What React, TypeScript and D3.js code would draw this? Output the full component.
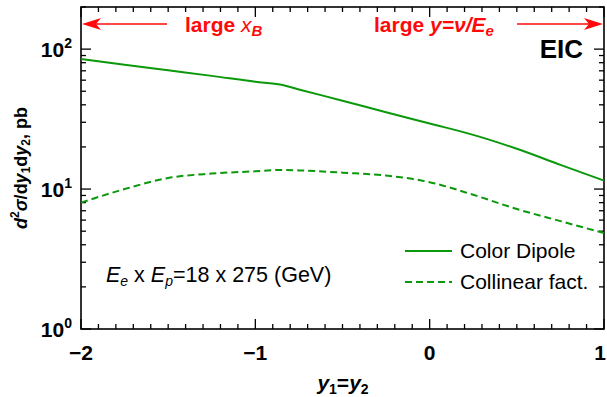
import { useEffect, useRef } from "react";
import * as d3 from "d3";

const ySame = [-2, -1.75, -1.5, -1.25, -1, -0.85, -0.75, -0.5, -0.25, 0, 0.25, 0.5, 0.75, 1];
const colorDipole = [84.9, 77.4, 70.6, 64.4, 58.5, 55.6, 51.5, 42.8, 35.4, 29.4, 24.4, 19.4, 14.9, 11.5];
const collinear = [8.0, 10.0, 12.0, 12.9, 13.4, 13.7, 13.6, 13.1, 12.5, 11.2, 9.1, 7.2, 5.9, 4.85];
const xTicks = [-2, -1, 0, 1];
const yDecades = [0, 1, 2];

const GREEN = "#0a990a";
const RED = "#ff0a0a";
const FONT = "'Liberation Sans', Arial, Helvetica, sans-serif";

export default function App() {
  const ref = useRef<SVGSVGElement>(null);

  useEffect(() => {
    if (!ref.current) return;
    const width = 607;
    const height = 397;
    const margin = { top: 7, right: 3, bottom: 68, left: 81 };

    const svg = d3.select(ref.current);
    svg.selectAll("*").remove();
    svg.attr("width", width).attr("height", height).style("font-family", FONT);

    const x = d3.scaleLinear().domain([-2, 1]).range([margin.left, width - margin.right]);
    const y = d3.scaleLog().domain([1, 200]).range([height - margin.bottom, margin.top]);
    const [x0, x1] = x.range();
    const [yb, yt] = y.range();

    // ticks (inward, mirrored)
    const minorX = d3.range(-20, 11).map((d) => d / 10).filter((d) => !xTicks.includes(d));
    const minorY: number[] = [];
    yDecades.forEach((e) => {
      for (let m = 2; m <= 9; m++) {
        const v = m * Math.pow(10, e);
        if (v <= 200) minorY.push(v);
      }
    });
    const tk = svg.append("g").attr("stroke", "#000").attr("stroke-width", 1.3);
    const xt = [...xTicks.map((d) => ({ v: d, l: 10 })), ...minorX.map((d) => ({ v: d, l: 5 }))];
    xt.forEach(({ v, l }) => {
      tk.append("line").attr("x1", x(v)).attr("x2", x(v)).attr("y1", yb).attr("y2", yb - l);
      tk.append("line").attr("x1", x(v)).attr("x2", x(v)).attr("y1", yt).attr("y2", yt + l);
    });
    const yt2 = [...yDecades.map((e) => ({ v: Math.pow(10, e), l: 10 })), ...minorY.map((d) => ({ v: d, l: 5 }))];
    yt2.forEach(({ v, l }) => {
      tk.append("line").attr("x1", x0).attr("x2", x0 + l).attr("y1", y(v)).attr("y2", y(v));
      tk.append("line").attr("x1", x1).attr("x2", x1 - l).attr("y1", y(v)).attr("y2", y(v));
    });

    // frame
    svg
      .append("rect")
      .attr("x", x0)
      .attr("y", yt)
      .attr("width", x1 - x0)
      .attr("height", yb - yt)
      .attr("fill", "none")
      .attr("stroke", "#000")
      .attr("stroke-width", 1.6);

    // y tick labels
    yDecades.forEach((e) => {
      const t = svg
        .append("text")
        .attr("x", x0 - 9)
        .attr("y", y(Math.pow(10, e)) + 8)
        .attr("text-anchor", "end")
        .attr("font-weight", "bold")
        .attr("font-size", 21);
      t.append("tspan").text("10");
      t.append("tspan").attr("font-size", 14).attr("dy", -9).text(`${e}`);
    });

    // x tick labels
    svg
      .append("g")
      .selectAll("text")
      .data(xTicks)
      .join("text")
      .attr("x", (d) => Math.min(x(d), width - 7))
      .attr("y", yb + 31)
      .attr("text-anchor", "middle")
      .attr("font-weight", "bold")
      .attr("font-size", 21)
      .text((d) => (d < 0 ? `\u2212${-d}` : `${d}`));

    // x title
    const xtitle = svg
      .append("text")
      .attr("x", 343)
      .attr("y", 390)
      .attr("text-anchor", "middle")
      .attr("font-weight", "bold")
      .attr("font-size", 21);
    xtitle.append("tspan").attr("font-style", "italic").text("y");
    xtitle.append("tspan").attr("font-size", 14).attr("dy", 4).text("1");
    xtitle.append("tspan").attr("dy", -4).text("=");
    xtitle.append("tspan").attr("font-style", "italic").text("y");
    xtitle.append("tspan").attr("font-size", 14).attr("dy", 4).text("2");

    // y title
    const ytitle = svg
      .append("text")
      .attr("transform", `translate(27,${(yb + yt) / 2}) rotate(-90)`)
      .attr("text-anchor", "middle")
      .attr("font-weight", "bold")
      .attr("font-size", 18);
    ytitle.append("tspan").attr("font-style", "italic").text("d");
    ytitle.append("tspan").attr("font-size", 12).attr("dy", -8).text("2");
    ytitle.append("tspan").attr("font-style", "italic").attr("dy", 8).text("\u03c3");
    ytitle.append("tspan").text("/d");
    ytitle.append("tspan").attr("font-style", "italic").text("y");
    ytitle.append("tspan").attr("font-size", 12).attr("dy", 3).text("1");
    ytitle.append("tspan").attr("dy", -3).text("d");
    ytitle.append("tspan").attr("font-style", "italic").text("y");
    ytitle.append("tspan").attr("font-size", 12).attr("dy", 3).text("2");
    ytitle.append("tspan").attr("dy", -3).text(", pb");

    // curves
    const line = (vals: number[]) =>
      d3
        .line<number>()
        .x((_, i) => x(ySame[i]))
        .y((d) => y(d))
        .curve(d3.curveMonotoneX)(vals);
    svg
      .append("path")
      .attr("d", line(colorDipole))
      .attr("fill", "none")
      .attr("stroke", GREEN)
      .attr("stroke-width", 2);
    svg
      .append("path")
      .attr("d", line(collinear))
      .attr("fill", "none")
      .attr("stroke", GREEN)
      .attr("stroke-width", 2)
      .attr("stroke-dasharray", "7,4");

    // legend
    const legend = [
      { label: "Color Dipole", dash: null as string | null, yy: 251 },
      { label: "Collinear fact.", dash: "7,4", yy: 282 },
    ];
    legend.forEach((d) => {
      svg
        .append("line")
        .attr("x1", 405)
        .attr("x2", 452)
        .attr("y1", d.yy)
        .attr("y2", d.yy)
        .attr("stroke", GREEN)
        .attr("stroke-width", 2)
        .attr("stroke-dasharray", d.dash);
      svg
        .append("text")
        .attr("x", 460)
        .attr("y", d.yy + 7)
        .attr("font-size", 21)
        .text(d.label);
    });

    // energy label
    const en = svg.append("text").attr("x", 106).attr("y", 282).attr("font-size", 21.5);
    en.append("tspan").attr("font-style", "italic").text("E");
    en.append("tspan").attr("font-style", "italic").attr("font-size", 14).attr("dy", 4).text("e");
    en.append("tspan").attr("dy", -4).text(" x ");
    en.append("tspan").attr("font-style", "italic").text("E");
    en.append("tspan").attr("font-style", "italic").attr("font-size", 14).attr("dy", 4).text("p");
    en.append("tspan").attr("dy", -4).text("=18 x 275 (GeV)");

    // EIC
    svg
      .append("text")
      .attr("x", 583)
      .attr("y", 58)
      .attr("text-anchor", "end")
      .attr("font-weight", "bold")
      .attr("font-size", 26)
      .text("EIC");

    // arrows
    const arrow = (from: number, to: number) => {
      const dir = Math.sign(to - from);
      const ay = 24;
      svg
        .append("line")
        .attr("x1", from)
        .attr("x2", to - dir * 14)
        .attr("y1", ay)
        .attr("y2", ay)
        .attr("stroke", RED)
        .attr("stroke-width", 1.5);
      svg
        .append("path")
        .attr("d", `M${to},${ay} L${to - dir * 19},${ay - 6} L${to - dir * 14},${ay} L${to - dir * 19},${ay + 6} Z`)
        .attr("fill", RED);
    };
    arrow(167, x0 + 1);
    arrow(517, x1 - 1);

    const a1 = svg
      .append("text")
      .attr("x", 185)
      .attr("y", 32)
      .attr("fill", RED)
      .attr("font-weight", "bold")
      .attr("font-size", 21);
    a1.append("tspan").text("large ");
    a1.append("tspan").attr("font-style", "italic").attr("font-weight", "normal").text("x");
    a1.append("tspan").attr("font-style", "italic").attr("font-size", 15).attr("dy", 4).text("B");

    const a2 = svg
      .append("text")
      .attr("x", 374)
      .attr("y", 32)
      .attr("fill", RED)
      .attr("font-weight", "bold")
      .attr("font-size", 21);
    a2.append("tspan").text("large ");
    a2.append("tspan").attr("font-style", "italic").text("y=\u03bd/E");
    a2.append("tspan").attr("font-style", "italic").attr("font-size", 15).attr("dy", 4).text("e");
  }, []);

  return <svg ref={ref} style={{ position: "absolute", left: 0, top: 0, background: "#fff" }} />;
}
